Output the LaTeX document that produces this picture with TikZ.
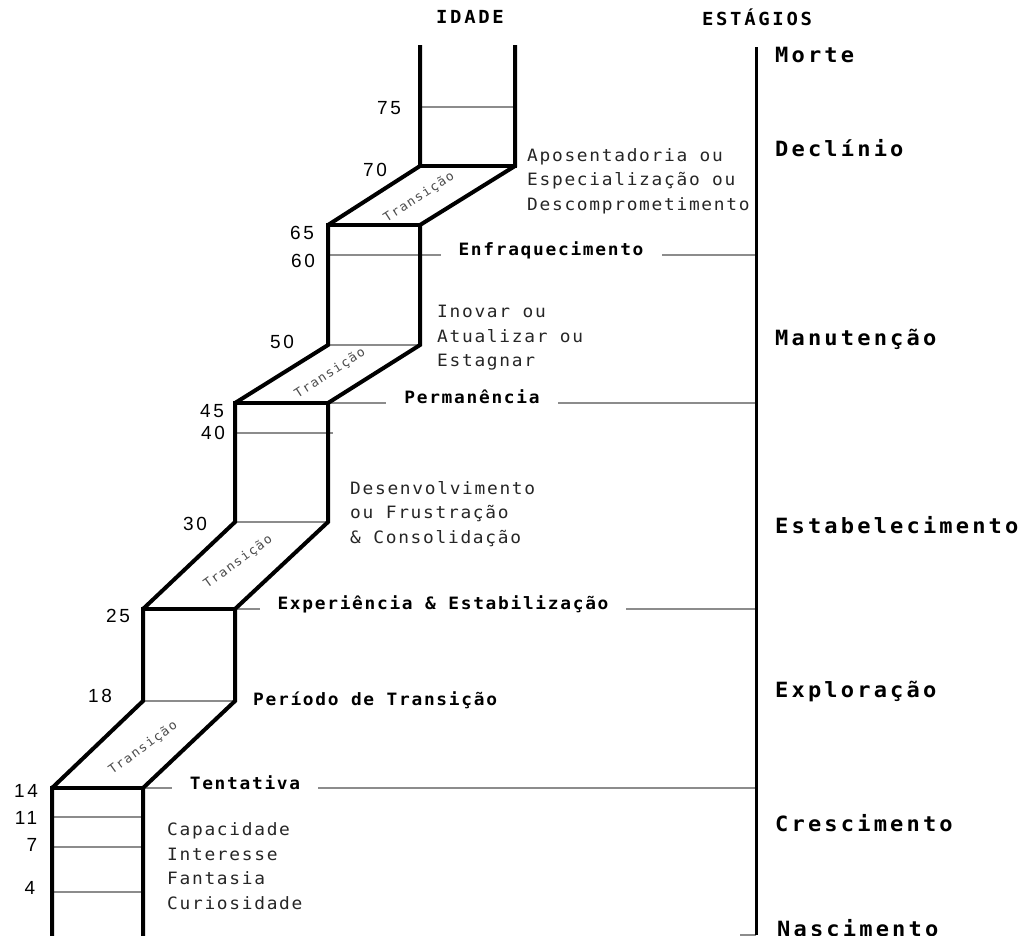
\documentclass[tikz,border=0pt]{standalone}
\usepackage{fontspec}
\usepackage{tikz}
\usetikzlibrary{positioning}
\newfontfamily\monofont[FakeStretch=1.05,LetterSpace=10]{DejaVu Sans Mono}
\newfontfamily\stagefont[FakeStretch=1.05,LetterSpace=15]{DejaVu Sans Mono}
\newfontfamily\numfont[LetterSpace=14]{Liberation Sans}
\tikzset{
  wall/.style={line width=4pt, line join=miter, line cap=rect},
  rung/.style={line width=1.3pt, draw=black!45},
  agelbl/.style={font=\numfont\fontsize{19}{19}\selectfont, inner sep=0pt},
  notelbl/.style={font=\monofont\fontsize{17}{24.5}\selectfont, anchor=west, align=left, inner sep=0pt, text=black!85},
  steplbl/.style={font=\monofont\bfseries\fontsize{17}{17}\selectfont, fill=white, inner xsep=18pt, inner ysep=3pt, anchor=base},
  stagelbl/.style={font=\stagefont\bfseries\fontsize{21}{21}\selectfont, anchor=west, inner sep=0pt},
  headlbl/.style={font=\stagefont\bfseries\fontsize{18}{18}\selectfont, inner sep=0pt},
  translbl/.style={font=\monofont\fontsize{12.5}{12.5}\selectfont, inner sep=0pt, text=black!70},
}
\begin{document}
\begin{tikzpicture}[x=1pt, y=-1pt]
  \useasboundingbox[fill=white] (0,0) rectangle (1027,935);
  % ---------- CORNERS ----------
  \coordinate (A0) at (52,935);   \coordinate (B0) at (143,935);
  \coordinate (A1) at (52,788);   \coordinate (B1) at (143,788);
  \coordinate (A2) at (143,701);  \coordinate (B2) at (235,701);
  \coordinate (A3) at (143,609);  \coordinate (B3) at (235,609);
  \coordinate (A4) at (235,522);  \coordinate (B4) at (328,522);
  \coordinate (A5) at (235,403);  \coordinate (B5) at (328,403);
  \coordinate (A6) at (328,345);  \coordinate (B6) at (420,345);
  \coordinate (A7) at (328,225);  \coordinate (B7) at (420,225);
  \coordinate (A8) at (420,166);  \coordinate (B8) at (515,166);
  \coordinate (A9) at (420,47);   \coordinate (B9) at (515,47);
  % stage axis
  \coordinate (axtop) at (756,47);
  \coordinate (axbot) at (756,935);
  % ---------- THIN LINES ----------
  \foreach \y in {817,847,892} \draw[rung] (52,\y) -- (143,\y);
  \draw[rung] (A2) -- (B2);
  \draw[rung] (A4) -- (B4);
  \draw[rung] (235,433) -- (333,433);
  \draw[rung] (A6) -- (B6);
  \draw[rung] (420,107) -- (515,107);
  \draw[rung] (B1) -- (B1 -| axtop);
  \draw[rung] (B3) -- (B3 -| axtop);
  \draw[rung] (B5) -- (B5 -| axtop);
  \draw[rung] (328,255) -- (axtop |- 0,255);
  \draw[rung] (axbot) -- ++(-16,0);
  % ---------- STAIRS ----------
  \draw[wall] (A0) -- (A1) -- (A2) -- (A3) -- (A4) -- (A5) -- (A6) -- (A7) -- (A8) -- (A9);
  \draw[wall] (B0) -- (B1) -- (B2) -- (B3) -- (B4) -- (B5) -- (B6) -- (B7) -- (B8) -- (B9);
  \draw[wall] (A1) -- (B1);
  \draw[wall] (A3) -- (B3);
  \draw[wall] (A5) -- (B5);
  \draw[wall] (A7) -- (B7);
  \draw[wall] (A8) -- (B8);
  \draw[line width=3pt] (axtop) -- (axbot);
  % ---------- TRANSITIONS ----------
  \node[translbl, rotate=36] (tr1) at (143,748) {Transição};
  \node[translbl, rotate=36] (tr2) at (238,562) {Transição};
  \node[translbl, rotate=33] (tr3) at (330,373) {Transição};
  \node[translbl, rotate=33] (tr4) at (419,197) {Transição};
  % ---------- AGES ----------
  \node[agelbl] (a75) at (389,108) {75};
  \node[agelbl] (a70) at (375,170) {70};
  \node[agelbl] (a65) at (302,233) {65};
  \node[agelbl] (a60) at (303,261) {60};
  \node[agelbl] (a50) at (282,342) {50};
  \node[agelbl] (a45) at (212,411) {45};
  \node[agelbl] (a40) at (213,433) {40};
  \node[agelbl] (a30) at (195,524) {30};
  \node[agelbl] (a25) at (118,616) {25};
  \node[agelbl] (a18) at (100,696) {18};
  \node[agelbl] (a14) at (26,791) {14};
  \node[agelbl] (a11) at (26,818) {11};
  \node[agelbl] (a7) at (32,845) {7};
  \node[agelbl] (a4) at (30,888) {4};
  % ---------- MARKERS ----------
  \node[steplbl] (tent) at (245,789) {Tentativa};
  \node[steplbl] (expe) at (443,609) {Experiência \& Estabilização};
  \node[steplbl] (perm) at (472,403) {Permanência};
  \node[steplbl] (enfr) at (551,255) {Enfraquecimento};
  \node[steplbl, fill=none, anchor=west, inner sep=0pt] (peri) at (253,700) {Período de Transição};
  % ---------- NOTES ----------
  \node[notelbl] (apos) at (527,181) {Aposentadoria ou\\Especialização ou\\Descomprometimento};
  \node[notelbl] (inov) at (437,338) {Inovar ou\\Atualizar ou\\Estagnar};
  \node[notelbl] (dese) at (350,514) {Desenvolvimento\\ou Frustração\\\& Consolidação};
  \node[notelbl] (capa) at (167,866) {Capacidade\\Interesse\\Fantasia\\Curiosidade};
  % ---------- STAGES ----------
  \node[headlbl] (idade) at (470,17) {IDADE};
  \node[headlbl] (estag) at (757,17) {ESTÁGIOS};
  \node[stagelbl] (morte) at (775,55) {Morte};
  \node[stagelbl] (decl) at (775,148) {Declínio};
  \node[stagelbl] (manu) at (775,339) {Manutenção};
  \node[stagelbl] (esta) at (775,525) {Estabelecimento};
  \node[stagelbl] (expl) at (775,692) {Exploração};
  \node[stagelbl] (cres) at (775,823) {Crescimento};
  \node[stagelbl] (nasc) at (777,928) {Nascimento};
\end{tikzpicture}
\end{document}
